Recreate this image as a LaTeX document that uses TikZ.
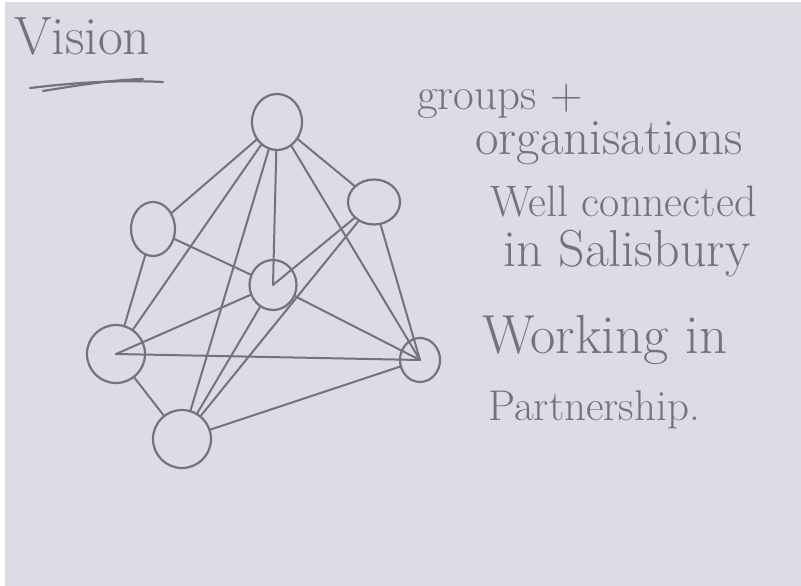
\documentclass[tikz,border=0pt]{standalone}
\usetikzlibrary{shapes.geometric}
\definecolor{paper}{RGB}{222,219,229}
\definecolor{pencil}{RGB}{118,113,126}
\tikzset{
  x=1pt, y=-1pt,
  circ/.style={ellipse, draw=pencil, line width=2.2pt, inner sep=0pt},
  link/.style={draw=pencil, line width=2pt, line cap=round},
  hand/.style={text=pencil, inner sep=0pt, anchor=base west},
}
\begin{document}
\begin{tikzpicture}
\fill[paper] (0,0) rectangle (801,586);
\fill[white] (0,0) rectangle (5,586);
\fill[white] (0,0) rectangle (801,2);
\useasboundingbox (0,0) rectangle (801,586);

% title
\node[hand, font=\fontsize{54}{58}\selectfont] (title) at (14,55) {Vision};
\draw[link, line width=2.2pt] (30,88) .. controls (80,82) and (120,80) .. (163,82);
\draw[link, line width=2.2pt] (43,91) .. controls (80,85) and (110,80) .. (143,79);

% nodes
\node[circ, minimum width=50, minimum height=56] (T) at (277,122) {};
\node[circ, minimum width=44, minimum height=54] (UL) at (153,229) {};
\node[circ, minimum width=52, minimum height=45] (UR) at (374,202) {};
\node[circ, minimum width=47, minimum height=50] (C) at (273,285) {};
\node[circ, minimum width=58, minimum height=58] (L) at (116,354) {};
\node[circ, minimum width=40, minimum height=44] (R) at (420,360) {};
\node[circ, minimum width=58, minimum height=58] (B) at (182,439) {};

% connectors
\draw[link] (T) -- (UL);
\draw[link] (T) -- (L);
\draw[link] (T) -- (B);
\draw[link] (T) -- (C.center);
\draw[link] (T) -- (R.center);
\draw[link] (T) -- (UR);
\draw[link] (UL) -- (L);
\draw[link] (UL) -- (C);
\draw[link] (UR) -- (C.center);
\draw[link] (UR) -- (B);
\draw[link] (UR) -- (R.center);
\draw[link] (C) -- (L.center);
\draw[link] (C) -- (R.center);
\draw[link] (C) -- (B);
\draw[link] (L.center) -- (R.center);
\draw[link] (L) -- (B);
\draw[link] (B) -- (R);

% text
\node[hand, font=\fontsize{45}{48}\selectfont] (t1) at (417,110) {groups +};
\node[hand, font=\fontsize{51}{54}\selectfont] (t2) at (475,154) {organisations};
\node[hand, font=\fontsize{44}{48}\selectfont] (t3) at (490,216) {Well connected};
\node[hand, font=\fontsize{52}{56}\selectfont] (t4) at (503,266) {in Salisbury};
\node[hand, font=\fontsize{55}{58}\selectfont] (t5) at (482,353) {Working in};
\node[hand, font=\fontsize{43}{48}\selectfont] (t6) at (488,420) {Partnership.};
\end{tikzpicture}
\end{document}
